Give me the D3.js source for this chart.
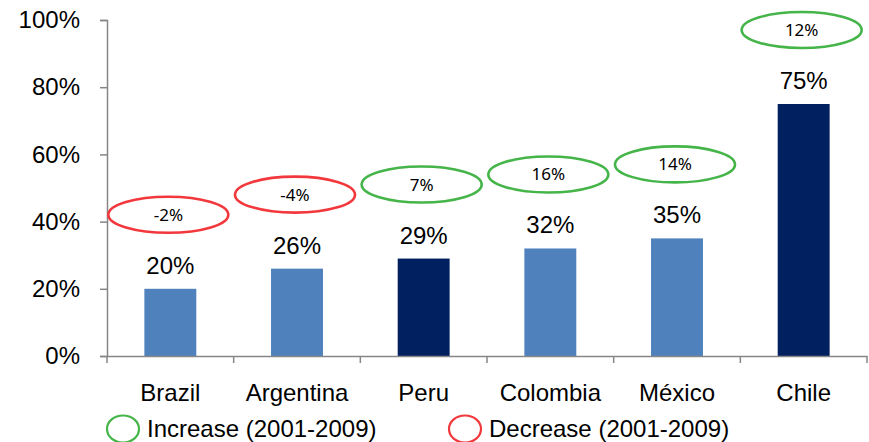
<!DOCTYPE html>
<html>
<head>
<meta charset="utf-8">
<script src="https://cdn.jsdelivr.net/npm/d3@7"></script>
<style>
  html, body { margin: 0; padding: 0; background: #fff; }
  svg { display: block; }
  text { font-family: "Liberation Sans", Arial, sans-serif; fill: #000; }
</style>
</head>
<body>
<svg id="chart" width="869" height="442"></svg>
<script>
// Share of population (bars) and change 2001-2009 (ellipse badges)
const countries = ["Brazil", "Argentina", "Peru", "Colombia", "México", "Chile"];
const shares = [20, 26, 29, 32, 35, 75];
const changes = [-2, -4, 7, 16, 14, 12];
const highlight = [false, false, true, false, false, true];
const yTicks = [0, 20, 40, 60, 80, 100];
const legendItems = ["Increase (2001-2009)", "Decrease (2001-2009)"];

const svg = d3.select("#chart");
const margin = { left: 107, right: 2, top: 20, bottom: 86 };
const W = 869, H = 442;

const x = d3.scaleBand()
  .domain(countries)
  .range([margin.left, W - margin.right])
  .paddingInner(0.59)
  .paddingOuter(0.295);

const y = d3.scaleLinear()
  .domain([0, 100])
  .range([H - margin.bottom, margin.top]);

const axisColor = "#868686";
const lightBlue = "#4f81bd";
const navy = "#002060";
const green = "#45b449";
const red = "#f2393c";

const defs = svg.append("defs");
defs.append("filter").attr("id", "soft")
  .append("feGaussianBlur").attr("stdDeviation", 0.45);

// Y axis
const yAxis = svg.append("g")
  .attr("transform", `translate(${margin.left},0)`)
  .call(d3.axisLeft(y).tickValues(yTicks).tickSize(7).tickPadding(20).tickFormat(d => d + "%"));
yAxis.select(".domain").attr("stroke", axisColor).attr("stroke-width", 1.5);
yAxis.selectAll(".tick line").attr("stroke", axisColor).attr("stroke-width", 1.5);
yAxis.selectAll(".tick text")
  .style("font-size", "24px")
  .attr("fill", "#000")
  .style("font-family", "'Liberation Sans', Arial, sans-serif");

// Bars
svg.append("g").selectAll("rect")
  .data(countries)
  .join("rect")
  .attr("x", d => x(d))
  .attr("width", x.bandwidth())
  .attr("y", (d, i) => y(shares[i]))
  .attr("height", (d, i) => y(0) - y(shares[i]))
  .attr("fill", (d, i) => highlight[i] ? navy : lightBlue);

// X axis
const xAxis = svg.append("g")
  .attr("transform", `translate(0,${y(0)})`)
  .call(d3.axisBottom(x).tickSize(0).tickPadding(28).tickSizeOuter(0));
xAxis.select(".domain").attr("stroke", axisColor).attr("stroke-width", 1.5);
xAxis.selectAll(".tick text")
  .style("font-size", "24px")
  .attr("fill", "#000")
  .style("font-family", "'Liberation Sans', Arial, sans-serif");

// Category separators on the x axis
const bounds = d3.range(countries.length + 1).map(i => x.range()[0] + i * x.step());
xAxis.selectAll(".sep")
  .data(bounds)
  .join("line")
  .attr("class", "sep")
  .attr("x1", d => d).attr("x2", d => d)
  .attr("y1", 0).attr("y2", 7)
  .attr("stroke", axisColor)
  .attr("stroke-width", 1.5);

// Value labels above bars
svg.append("g").selectAll("text")
  .data(countries)
  .join("text")
  .attr("x", d => x(d) + x.bandwidth() / 2)
  .attr("y", (d, i) => y(shares[i]) - 15)
  .attr("text-anchor", "middle")
  .style("font-size", "24px")
  .text((d, i) => shares[i] + "%");

// Change badges
const badges = svg.append("g").selectAll("g")
  .data(countries)
  .join("g")
  .attr("transform", (d, i) => `translate(${x(d) + x.bandwidth() / 2 - 2},${y(shares[i]) - 74})`);

badges.append("ellipse")
  .attr("rx", 60)
  .attr("ry", 18)
  .attr("fill", "#fff")
  .attr("stroke", (d, i) => changes[i] < 0 ? red : green)
  .attr("stroke-width", 2.6)
  .attr("filter", "url(#soft)");

badges.append("text")
  .attr("y", 6)
  .attr("text-anchor", "middle")
  .style("font-family", "'Noto Sans', 'Open Sans', sans-serif")
  .style("font-size", "17px")
  .attr("fill", "#1a1a1a")
  .text((d, i) => changes[i] + "%");

// Legend
const legendPos = [{ cx: 123, tx: 147 }, { cx: 465, tx: 489 }];
const legendColors = [green, red];
const legend = svg.append("g").selectAll("g")
  .data(legendItems)
  .join("g");

legend.append("ellipse")
  .attr("cx", (d, i) => legendPos[i].cx)
  .attr("cy", 429)
  .attr("rx", 16)
  .attr("ry", 13.5)
  .attr("fill", "#fff")
  .attr("stroke", (d, i) => legendColors[i])
  .attr("stroke-width", 2.2)
  .attr("filter", "url(#soft)");

legend.append("text")
  .attr("x", (d, i) => legendPos[i].tx)
  .attr("y", 437)
  .style("font-size", "24px")
  .text(d => d);
</script>
</body>
</html>
